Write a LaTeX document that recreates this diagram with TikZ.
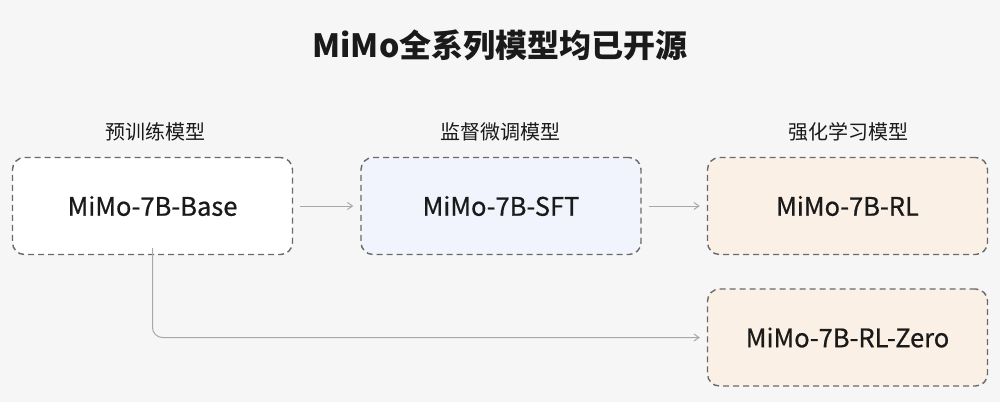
\documentclass[tikz,border=0pt]{standalone}
\usepackage{fontspec}
\setmainfont{Noto Sans CJK SC}
\newfontfamily\medfont[FakeBold=0.6]{Noto Sans CJK SC}
\usetikzlibrary{arrows.meta,positioning}
\definecolor{bg}{HTML}{F6F6F6}
\definecolor{bordergray}{HTML}{6A6A6A}
\definecolor{arrowgray}{HTML}{A8A8A8}
\definecolor{sftfill}{HTML}{F1F4FC}
\definecolor{rlfill}{HTML}{FAF0E5}
\definecolor{txt}{HTML}{1A1A1A}
\begin{document}
\begin{tikzpicture}[x=1pt,y=-1pt,
  modelbox/.style={draw=bordergray, line width=1.4pt, dash pattern=on 6pt off 4pt,
    rounded corners=12pt, minimum width=280pt, minimum height=97pt, inner sep=0pt,
    font=\medfont\fontsize{25.5}{30}\selectfont, text=txt},
  stagelabel/.style={font=\fontsize{20}{24}\selectfont, text=txt},
  conn/.style={draw=arrowgray, line width=1pt, -{Straight Barb[length=5pt,width=7pt]}}]
\fill[bg] (0,0) rectangle (1000,402);
\useasboundingbox (0,0) rectangle (1000,402);
\node[font=\fontsize{32}{38}\bfseries\selectfont, text=txt] (title) at (500,45) {MiMo全系列模型均已开源};
\node[stagelabel] (l1) at (155,132) {预训练模型};
\node[stagelabel] (l2) at (500,132) {监督微调模型};
\node[stagelabel] (l3) at (848,132) {强化学习模型};
\node[modelbox, fill=white] (base) at (152.5,206) {MiMo-7B-Base};
\node[modelbox, fill=sftfill] (sft) at (501,206) {MiMo-7B-SFT};
\node[modelbox, fill=rlfill] (rl) at (847.5,206) {MiMo-7B-RL};
\node[modelbox, fill=rlfill] (zero) at (847.5,337.5) {MiMo-7B-RL-Zero};
\draw[conn] ([xshift=7pt]base.east) -- ([xshift=-7pt]sft.west);
\draw[conn] ([xshift=7pt]sft.east) -- ([xshift=-7pt]rl.west);
\draw[conn, rounded corners=10pt] ([yshift=7pt]base.south) |- ([xshift=-7pt]zero.west);
\end{tikzpicture}
\end{document}
